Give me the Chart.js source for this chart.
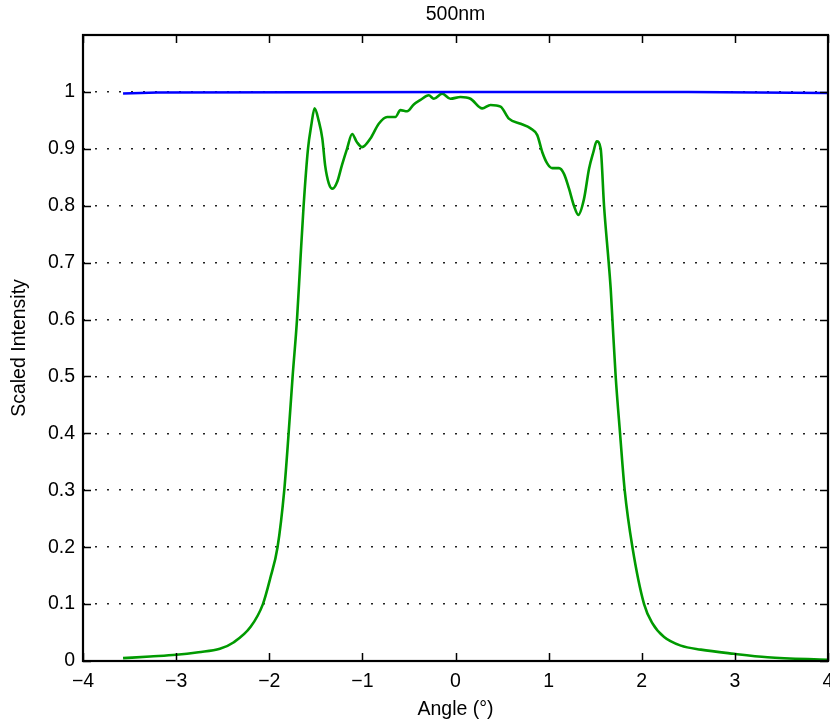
<!DOCTYPE html>
<html>
<head>
<meta charset="utf-8">
<script src="https://cdn.jsdelivr.net/npm/chart.js@4.4.0/dist/chart.umd.min.js"></script>
<style>
  html, body { margin: 0; padding: 0; background: #fff; }
  #wrap { width: 830px; height: 723px; }
</style>
</head>
<body>
<div id="wrap"><canvas id="intensity_chart" width="830" height="723"></canvas></div>
<script>
// values
const greenAngle = [
    -3.57, -3.28, -3.0, -2.76, -2.53, -2.38, -2.2, -2.068, -1.99, -1.911, -1.839,
    -1.792, -1.749, -1.702, -1.667, -1.631, -1.584, -1.55, -1.513, -1.47, -1.43, -1.4, -1.36,
    -1.32, -1.27, -1.22, -1.165, -1.11, -1.06, -1.003, -0.914, -0.824, -0.734, -0.645, -0.591,
    -0.52, -0.448, -0.376, -0.287, -0.233, -0.143, -0.054, 0.054, 0.161, 0.287, 0.376, 0.484,
    0.573, 0.699, 0.806, 0.878, 0.932, 0.986, 1.04, 1.111, 1.165, 1.219, 1.272, 1.319, 1.38,
    1.434, 1.48, 1.516, 1.559, 1.595, 1.645, 1.667, 1.685, 1.72, 1.767, 1.817, 1.9, 2.025,
    2.115, 2.24, 2.42, 2.634, 2.99, 3.35, 4.0
];
const greenIntensity = [
    0.005, 0.008, 0.011, 0.0155, 0.0215, 0.033, 0.06, 0.1, 0.145, 0.2, 0.3,
    0.4, 0.5, 0.6, 0.7, 0.8, 0.9, 0.94, 0.971, 0.95, 0.918, 0.871, 0.839,
    0.83, 0.842, 0.871, 0.9, 0.926, 0.912, 0.903, 0.918, 0.944, 0.956, 0.956, 0.968,
    0.966, 0.978, 0.986, 0.994, 0.988, 0.997, 0.988, 0.991, 0.988, 0.971, 0.977, 0.974,
    0.953, 0.944, 0.936, 0.924, 0.894, 0.874, 0.866, 0.866, 0.856, 0.83, 0.8, 0.784, 0.812,
    0.865, 0.894, 0.913, 0.9, 0.8, 0.7, 0.653, 0.6, 0.5, 0.4, 0.3, 0.2, 0.1,
    0.066, 0.042, 0.027, 0.02, 0.0127, 0.0067, 0.002
];
const blueAngle = [-3.57, -3.2, 0, 2.5, 4.0];
const blueIntensity = [0.997, 0.999, 1.0, 1.0, 0.998];

const xTicks = [-4, -3, -2, -1, 0, 1, 2, 3, 4];
const yTicks = [0, 0.1, 0.2, 0.3, 0.4, 0.5, 0.6, 0.7, 0.8, 0.9, 1];

const FONT = "'Liberation Sans', Arial, Helvetica, sans-serif";

function toPoints(xs, ys) {
    return xs.map((x, i) => ({ x: x, y: ys[i] }));
}

// frame, inward ticks and title, matlab style
const boxPlugin = {
    id: "boxPlugin",
    afterDraw(chart) {
        const ctx = chart.ctx;
        const a = chart.chartArea;
        const xs = chart.scales.x;
        const ys = chart.scales.y;
        const len = 8;
        ctx.save();
        ctx.strokeStyle = "#000";
        ctx.lineWidth = 1.5;
        ctx.beginPath();
        xTicks.forEach((t) => {
            const px = Math.round(xs.getPixelForValue(t)) + 0.5;
            ctx.moveTo(px, a.bottom);
            ctx.lineTo(px, a.bottom - len);
            ctx.moveTo(px, a.top);
            ctx.lineTo(px, a.top + len);
        });
        yTicks.forEach((t) => {
            const py = Math.round(ys.getPixelForValue(t)) + 0.5;
            ctx.moveTo(a.left, py);
            ctx.lineTo(a.left + len, py);
            ctx.moveTo(a.right, py);
            ctx.lineTo(a.right - len, py);
        });
        ctx.stroke();
        ctx.lineWidth = 2.2;
        ctx.strokeRect(a.left, a.top, a.right - a.left, a.bottom - a.top);

        ctx.fillStyle = "#000";
        ctx.font = "19.5px " + FONT;
        ctx.textAlign = "center";
        ctx.textBaseline = "middle";
        ctx.fillText("500nm", (a.left + a.right) / 2, 15);
        ctx.restore();
    },
};

new Chart(document.getElementById("intensity_chart"), {
    type: "line",
    data: {
        datasets: [
            {
                data: toPoints(blueAngle, blueIntensity),
                borderColor: "#0000ff",
                borderWidth: 2.5,
                pointRadius: 0,
                fill: false,
                tension: 0,
            },
            {
                data: toPoints(greenAngle, greenIntensity),
                borderColor: "#009a00",
                borderWidth: 2.6,
                pointRadius: 0,
                fill: false,
                cubicInterpolationMode: "monotone",
            },
        ],
    },
    options: {
        responsive: false,
        animation: false,
        events: [],
        layout: {
            padding: { top: 35, right: 2, left: 0, bottom: 0 },
        },
        plugins: {
            legend: { display: false },
            tooltip: { enabled: false },
        },
        scales: {
            x: {
                type: "linear",
                min: -4,
                max: 4,
                afterBuildTicks: (scale) => {
                    scale.ticks = xTicks.map((v) => ({ value: v }));
                },
                afterFit: (scale) => {
                    scale.height = 62;
                    scale.paddingLeft = 0;
                    scale.paddingRight = 0;
                },
                grid: { display: false, drawTicks: false },
                border: { display: false },
                ticks: {
                    color: "#000",
                    font: { family: FONT, size: 19.5 },
                    padding: 9,
                    maxRotation: 0,
                    callback: (v) => String(v).replace("-", "\u2212"),
                },
                title: {
                    display: true,
                    text: "Angle (°)",
                    color: "#000",
                    font: { family: FONT, size: 19.5 },
                    padding: { top: 0, bottom: 2 },
                },
            },
            y: {
                type: "linear",
                min: 0,
                max: 1.1,
                afterBuildTicks: (scale) => {
                    scale.ticks = yTicks.map((v) => ({ value: v }));
                },
                afterFit: (scale) => {
                    scale.width = 83;
                },
                grid: {
                    display: true,
                    drawTicks: false,
                    color: "#222",
                    lineWidth: 1.6,
                },
                border: { display: false, dash: [2, 10] },
                ticks: {
                    color: "#000",
                    font: { family: FONT, size: 19.5 },
                    padding: 8,
                    callback: (v) => String(Number(v.toFixed(1))),
                },
                title: {
                    display: true,
                    text: "Scaled Intensity",
                    color: "#000",
                    font: { family: FONT, size: 19.5 },
                    padding: { top: 8, bottom: 0 },
                },
            },
        },
    },
    plugins: [boxPlugin],
});
</script>
</body>
</html>
